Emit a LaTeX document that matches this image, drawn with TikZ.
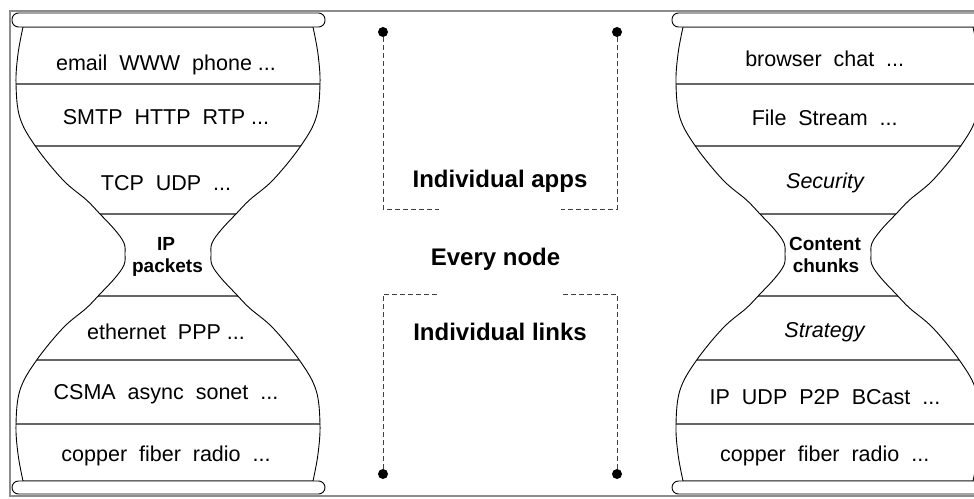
\documentclass[tikz,border=0pt]{standalone}
\usepackage{fontspec}
\setmainfont{Liberation Sans}
\begin{document}
\tikzset{
  frame/.style={draw=black!45, line width=1.6pt},
  outline/.style={draw=black, line width=0.9pt},
  layer/.style={draw=black!60, line width=1.2pt},
  endcap/.style={draw=black, fill=white, line width=0.9pt, rounded corners=6.5pt},
  dashline/.style={draw=black!75, line width=0.8pt, dash pattern=on 4.5pt off 3.5pt},
  dot/.style={circle, fill=black, inner sep=0pt, minimum size=10pt},
  lab/.style={anchor=base, inner sep=0pt, font=\fontsize{21.5}{24}\selectfont},
  ital/.style={anchor=base, inner sep=0pt, font=\fontsize{21.5}{24}\selectfont\itshape},
  waist/.style={anchor=base, inner sep=0pt, font=\fontsize{19}{22}\selectfont\bfseries},
  big/.style={anchor=base, inner sep=0pt, font=\fontsize{24}{28}\selectfont\bfseries},
  hourglass/.pic={
    % layer separators, kept inside the glass
    \begin{scope}
      \clip plot[smooth, tension=0.6] coordinates {(-145,227) (-150,200) (-152,170) (-148,136) (-132,107) (-105,74) (-81.5,54) (-68,40) (-53,24) (-44,11) (-43,0) (-44,-11) (-53,-24) (-68,-40) (-81.5,-54) (-105,-74) (-132,-107) (-148,-136) (-152,-170) (-150,-200) (-145,-227)}
        -- plot[smooth, tension=0.6] coordinates {(145,-227) (150,-200) (152,-170) (148,-136) (132,-107) (105,-74) (81.5,-54) (68,-40) (53,-24) (44,-11) (43,0) (44,11) (53,24) (68,40) (81.5,54) (105,74) (132,107) (148,136) (152,170) (150,200) (145,227)} -- cycle;
      \foreach \h in {170,108,40,-42,-106,-170}
        \draw[layer] (-170,\h) -- (170,\h);
    \end{scope}
    % glass outline
    \path[outline] plot[smooth, tension=0.6] coordinates {(-145,227) (-150,200) (-152,170) (-148,136) (-132,107) (-105,74) (-81.5,54) (-68,40) (-53,24) (-44,11) (-43,0) (-44,-11) (-53,-24) (-68,-40) (-81.5,-54) (-105,-74) (-132,-107) (-148,-136) (-152,-170) (-150,-200) (-145,-227)}
        -- plot[smooth, tension=0.6] coordinates {(145,-227) (150,-200) (152,-170) (148,-136) (132,-107) (105,-74) (81.5,-54) (68,-40) (53,-24) (44,-11) (43,0) (44,11) (53,24) (68,40) (81.5,54) (105,74) (132,107) (148,136) (152,170) (150,200) (145,227)} -- cycle;
    % end caps
    \draw[endcap] (-156,227) rectangle (157,241);
    \draw[endcap] (-156,-240) rectangle (157,-227);
  }
}
\begin{tikzpicture}[x=1pt, y=1pt]
  \useasboundingbox (0,0) rectangle (974,-498);
  \clip (0,0) rectangle (974,-498);
  \fill[white] (0,0) rectangle (974,-498);

  % outer frame
  \draw[frame] (1010,-11) -- (10,-11) -- (10,-496) -- (1010,-496);

  % the two hourglasses
  \pic at (168,-254) {hourglass};
  \pic at (828,-254) {hourglass};

  % left stack
  \node[lab] (l1) at (166,-70.7) {email~~WWW~~phone ...};
  \node[lab] (l2) at (166,-124) {SMTP~~HTTP~~RTP ...};
  \node[lab] (l3) at (166,-190) {TCP~~UDP~~...};
  \node[waist] (l4a) at (166,-250) {IP};
  \node[waist] (l4b) at (167.5,-272) {packets};
  \node[lab] (l5) at (166,-339) {ethernet~~PPP ...};
  \node[lab] (l6) at (166,-399) {CSMA~~async~~sonet~~...};
  \node[lab] (l7) at (166,-461) {copper~~fiber~~radio~~...};

  % right stack
  \node[lab] (r1) at (824.7,-66) {browser~~chat~~...};
  \node[lab] (r2) at (824.7,-125) {File~~Stream~~...};
  \node[ital] (r3) at (825,-188) {Security};
  \node[waist] (r4a) at (825,-250) {Content};
  \node[waist] (r4b) at (826,-272) {chunks};
  \node[ital] (r5) at (824.5,-337) {Strategy};
  \node[lab] (r6) at (825,-404) {IP~~UDP~~P2P~~BCast~~...};
  \node[lab] (r7) at (824.7,-461) {copper~~fiber~~radio~~...};

  % middle labels
  \node[big] (apps) at (500,-187) {Individual apps};
  \node[big] (every) at (495.5,-265) {Every node};
  \node[big] (links) at (500,-340) {Individual links};

  % dashed brackets with end dots
  \node[dot] (tl) at (383,-32) {};
  \node[dot] (tr) at (617,-32) {};
  \node[dot] (bl) at (383,-474) {};
  \node[dot] (br) at (617,-474) {};
  \coordinate (ta) at (383,-209);
  \coordinate (tae) at (439,-209);
  \coordinate (tb) at (617,-209);
  \coordinate (tbe) at (561,-209);
  \coordinate (ba) at (383,-294);
  \coordinate (bae) at (439,-294);
  \coordinate (bb) at (617,-294);
  \coordinate (bbe) at (561,-294);
  \draw[dashline] (tl) -- (ta) -- (tae);
  \draw[dashline] (tr) -- (tb) -- (tbe);
  \draw[dashline] (bl) -- (ba) -- (bae);
  \draw[dashline] (br) -- (bb) -- (bbe);
\end{tikzpicture}
\end{document}
